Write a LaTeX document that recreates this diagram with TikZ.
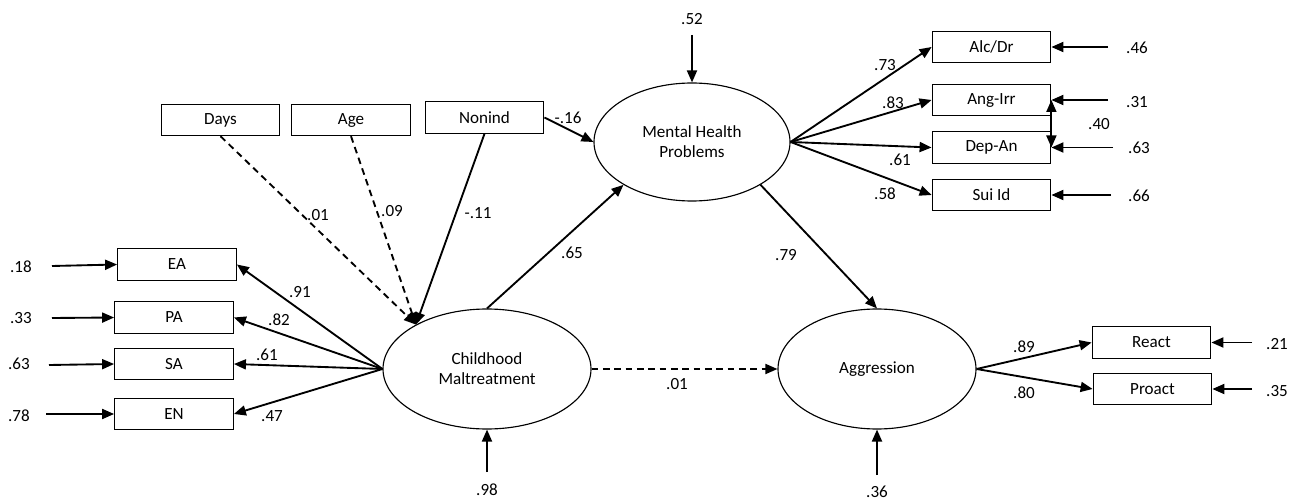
\documentclass[tikz,border=0pt]{standalone}
\usepackage{fontspec}
\setmainfont{Carlito}
\usepackage{tikz}
\usetikzlibrary{arrows.meta}
\usetikzlibrary{shapes.geometric}

\tikzset{
  obsbox/.style={draw,rectangle,line width=0.85pt,minimum width=89pt,minimum height=23.5pt,inner sep=0pt},
  latent/.style={draw,ellipse,line width=0.85pt,inner sep=0pt,align=center},
  sempath/.style={-{Triangle[length=9pt,width=7.5pt]},line width=1.4pt},
  nspath/.style={sempath,dash pattern=on 5pt off 3.5pt},
  twoway/.style={{Triangle[length=9pt,width=7.5pt]}-{Triangle[length=9pt,width=7.5pt]},line width=1.4pt},
  coef/.style={inner sep=0pt}
}

\begin{document}
\begin{tikzpicture}[x=0.75pt,y=-0.75pt,font=\fontsize{12.8}{15}\selectfont]
			\useasboundingbox (0,0) rectangle (1299,502);
			% latent variables
			\node[latent,minimum width=147pt,minimum height=88.5pt] (mhp) at (692,142) {Mental Health\\Problems};
			\node[latent,minimum width=156pt,minimum height=90pt] (cm) at (487,369) {Childhood\\Maltreatment};
			\node[latent,minimum width=148.5pt,minimum height=90pt] (agg) at (877,369) {Aggression};
			% indicators of maltreatment
			\node[obsbox] (ea) at (177,264.5) {EA};
			\node[obsbox] (pa) at (174,317.5) {PA};
			\node[obsbox] (sa) at (174,364) {SA};
			\node[obsbox] (en) at (174,414) {EN};
			% covariates
			\node[obsbox] (days) at (220.5,120) {Days};
			\node[obsbox] (age) at (351,120) {Age};
			\node[obsbox] (nonind) at (484.5,117.5) {Nonind};
			% indicators of mental health
			\node[obsbox] (alc) at (991.5,47) {Alc/Dr};
			\node[obsbox] (ang) at (991.5,100) {Ang-Irr};
			\node[obsbox] (dep) at (991.5,147.5) {Dep-An};
			\node[obsbox] (sui) at (991.5,195) {Sui Id};
			% indicators of aggression
			\node[obsbox] (react) at (1151.5,342.5) {React};
			\node[obsbox] (proact) at (1152.5,389) {Proact};
			% error terms
			\coordinate (eea) at (52,266);
			\coordinate (epa) at (52,318);
			\coordinate (esa) at (49,365);
			\coordinate (een) at (46,414);
			\coordinate (ealc) at (1108,47);
			\coordinate (eang) at (1108,100);
			\coordinate (edep) at (1113,147.5);
			\coordinate (esui) at (1111,195);
			\coordinate (ereact) at (1252,342.5);
			\coordinate (eproact) at (1252,389);
			\coordinate (emhp) at (692,35);
			\coordinate (ecm) at (487,472);
			\coordinate (eagg) at (877,475);
			\draw[sempath] (eea) -- (ea.west);
			\draw[sempath] (epa) -- (pa.west);
			\draw[sempath] (esa) -- (sa.west);
			\draw[sempath] (een) -- (en.west);
			\draw[sempath] (ealc) -- (alc.east);
			\draw[sempath] (eang) -- (ang.east);
			\draw[sempath] (edep) -- (dep.east);
			\draw[sempath] (esui) -- (sui.east);
			\draw[sempath] (ereact) -- (react.east);
			\draw[sempath] (eproact) -- (proact.east);
			\draw[sempath] (emhp) -- (mhp.north);
			\draw[sempath] (ecm) -- (cm.south);
			\draw[sempath] (eagg) -- (agg.south);
			\node[coef] (v18) at (21,267) {.18};
			\node[coef] (v33) at (21,318) {.33};
			\node[coef] (v63a) at (19,364) {.63};
			\node[coef] (v78) at (19,416) {.78};
			\node[coef] (v46) at (1137,48) {.46};
			\node[coef] (v31) at (1137,102) {.31};
			\node[coef] (v63b) at (1139,148) {.63};
			\node[coef] (v66) at (1139,196) {.66};
			\node[coef] (v21) at (1277,344) {.21};
			\node[coef] (v35) at (1277,391) {.35};
			\node[coef] (v52) at (692,19) {.52};
			\node[coef] (v98) at (487,490) {.98};
			\node[coef] (v36) at (877,492) {.36};
			% loadings
			\draw[sempath] (cm.west) -- (ea.east);
			\draw[sempath] (cm.west) -- (pa.east);
			\draw[sempath] (cm.west) -- (sa.east);
			\draw[sempath] (cm.west) -- (en.east);
			\draw[sempath] (mhp.east) -- (alc.west);
			\draw[sempath] (mhp.east) -- (ang.west);
			\draw[sempath] (mhp.east) -- (dep.west);
			\draw[sempath] (mhp.east) -- (sui.west);
			\draw[sempath] (agg.east) -- (react.west);
			\draw[sempath] (agg.east) -- (proact.west);
			\draw[twoway] (ang.east) -- (dep.east);
			\node[coef] (l91) at (300,292) {.91};
			\node[coef] (l82) at (279,320) {.82};
			\node[coef] (l61a) at (267,355) {.61};
			\node[coef] (l47) at (272,416) {.47};
			\node[coef] (l73) at (885,65) {.73};
			\node[coef] (l83) at (893,103) {.83};
			\node[coef] (l61b) at (900,160) {.61};
			\node[coef] (l58) at (885,194) {.58};
			\node[coef] (l89) at (1024,347) {.89};
			\node[coef] (l80) at (1024,393) {.80};
			\node[coef] (r40) at (1099,124) {.40};
			% structural paths
			\draw[nspath] (days.south) -- (cm.148);
			\draw[nspath] (age.south) -- (cm.148);
			\draw[sempath] (nonind.south) -- (cm.148);
			\draw[sempath] (nonind.east) -- (mhp.west);
			\draw[sempath] (cm.north) -- (mhp.212);
			\draw[sempath] (mhp.328) -- (agg.north);
			\draw[nspath] (cm.east) -- (agg.west);
			\node[coef] (p01a) at (318,215) {.01};
			\node[coef] (p09) at (392,211) {.09};
			\node[coef] (p11) at (478,213) {-.11};
			\node[coef] (p16) at (568,118) {-.16};
			\node[coef] (p65) at (572,253) {.65};
			\node[coef] (p79) at (786,255) {.79};
			\node[coef] (p01b) at (677,384) {.01};
		\end{tikzpicture}
\end{document}
